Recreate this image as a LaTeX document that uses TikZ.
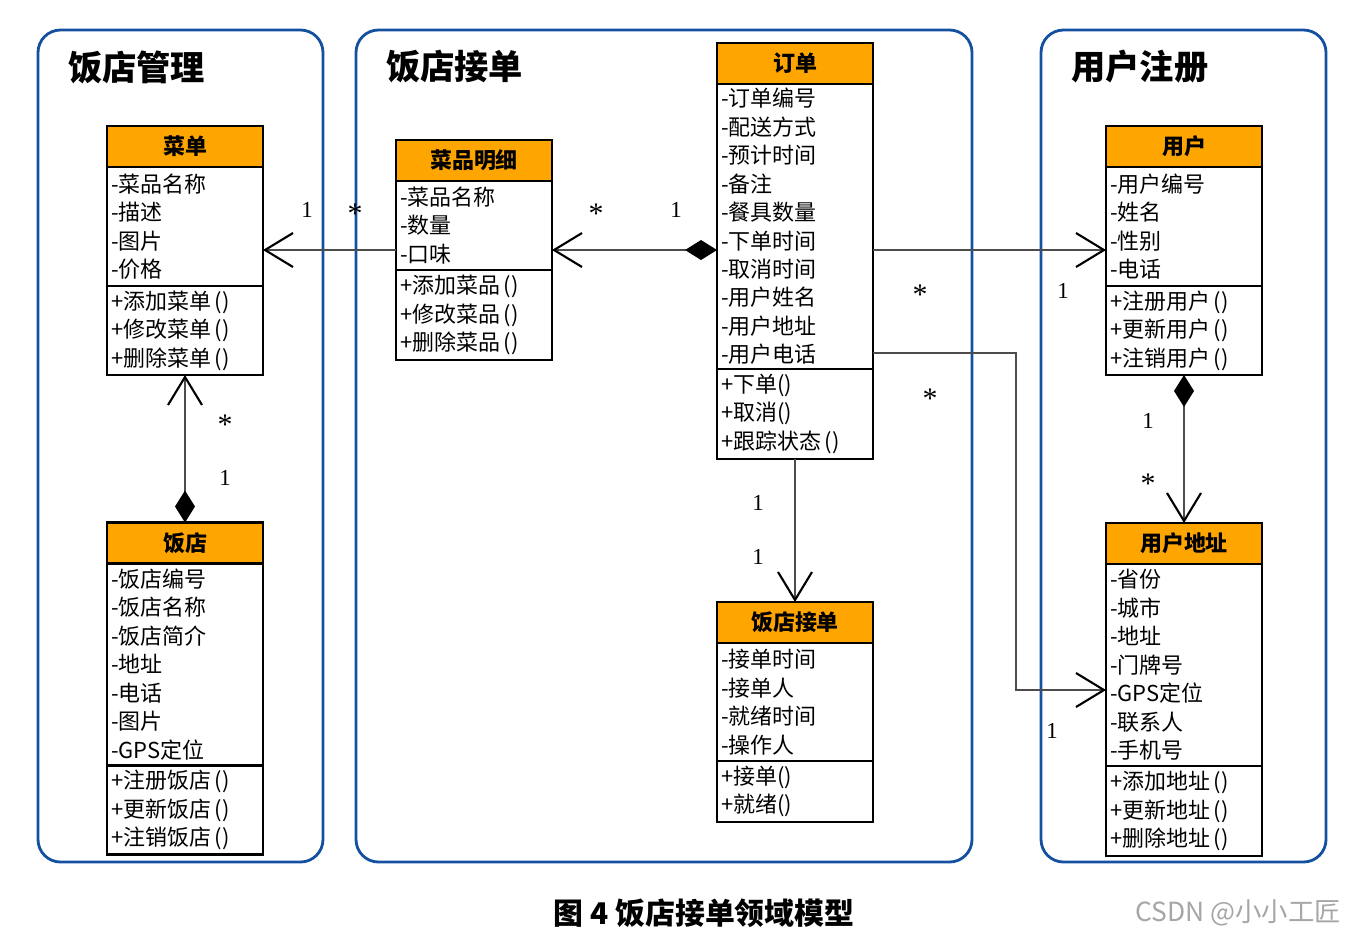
\documentclass[tikz,border=0pt]{standalone}
\usepackage{fontspec}
\setmainfont{Noto Sans CJK SC}
\newfontfamily\numfont{Liberation Serif}
\usetikzlibrary{positioning,arrows.meta}
\definecolor{headorange}{RGB}{255,165,0}
\definecolor{panelblue}{RGB}{20,80,160}
\tikzset{
  panel/.style={draw=panelblue, line width=1.6pt, rounded corners=0.45cm},
  paneltitle/.style={anchor=west, font=\fontsize{19.5}{22}\selectfont\bfseries},
  clshead/.style={draw, line width=1.3pt, outer sep=0pt, fill=headorange, text width=2.96cm, inner xsep=0.08cm,
    minimum height=0.82cm, align=center, font=\fontsize{12.5}{15}\selectfont\bfseries},
  clsbody/.style={draw, line width=1.3pt, outer sep=0pt, fill=white, text width=2.96cm, inner xsep=0.08cm,
    inner ysep=0pt, align=left, font=\fontsize{12.5}{16.2}\selectfont},
  assoc/.style={draw=black!70, line width=0.7pt},
  openend/.style={-{Straight Barb[length=0.56cm,width=0.68cm,line width=1.2pt,color=black]}},
  diamondopen/.style={{Diamond[length=0.64cm,width=0.4cm,color=black]}-{Straight Barb[length=0.56cm,width=0.68cm,line width=1.2pt,color=black]}},
  mult/.style={font=\numfont\fontsize{13}{15}\selectfont},
  multstar/.style={font=\numfont\fontsize{17}{19}\selectfont},
}
\begin{document}
\begin{tikzpicture}[x=0.02cm,y=-0.02cm]
    \useasboundingbox (0,0) rectangle (1351,938);
    \draw[panel] (38,30) rectangle (323,862);
    \draw[panel] (356,30) rectangle (972,862);
    \draw[panel] (1041,30) rectangle (1326,862);
    \node[paneltitle] (t1) at (62,67) {饭店管理};
    \node[paneltitle] (t2) at (380,67) {饭店接单};
    \node[paneltitle] (t3) at (1065,67) {用户注册};

    \node[clshead] (caidan) at (185,146.5) {菜单};
    \node[clsbody, minimum height=2.38cm, below=0pt of caidan] (caidan-a) {-菜品名称\\-描述\\-图片\\-价格};
    \node[clsbody, minimum height=1.78cm, below=0pt of caidan-a] (caidan-m) {+添加菜单\,()\\+修改菜单\,()\\+删除菜单\,()};

    \node[clshead] (fandian) at (185,543) {饭店};
    \node[clsbody, minimum height=4.04cm, below=0pt of fandian] (fandian-a) {-饭店编号\\-饭店名称\\-饭店简介\\-地址\\-电话\\-图片\\-GPS定位};
    \node[clsbody, minimum height=1.78cm, below=0pt of fandian-a] (fandian-m) {+注册饭店\,()\\+更新饭店\,()\\+注销饭店\,()};

    \node[clshead] (mingxi) at (474,160.5) {菜品明细};
    \node[clsbody, minimum height=1.78cm, below=0pt of mingxi] (mingxi-a) {-菜品名称\\-数量\\-口味};
    \node[clsbody, minimum height=1.8cm, below=0pt of mingxi-a] (mingxi-m) {+添加菜品\,()\\+修改菜品\,()\\+删除菜品\,()};

    \node[clshead] (dingdan) at (795,63.5) {订单};
    \node[clsbody, minimum height=5.7cm, below=0pt of dingdan] (dingdan-a) {-订单编号\\-配送方式\\-预计时间\\-备注\\-餐具数量\\-下单时间\\-取消时间\\-用户姓名\\-用户地址\\-用户电话};
    \node[clsbody, minimum height=1.8cm, below=0pt of dingdan-a] (dingdan-m) {+下单()\\+取消()\\+跟踪状态\,()};

    \node[clshead] (jiedan) at (795,622.5) {饭店接单};
    \node[clsbody, minimum height=2.36cm, below=0pt of jiedan] (jiedan-a) {-接单时间\\-接单人\\-就绪时间\\-操作人};
    \node[clsbody, minimum height=1.22cm, below=0pt of jiedan-a] (jiedan-m) {+接单()\\+就绪()};

    \node[clshead] (yonghu) at (1184,146.5) {用户};
    \node[clsbody, minimum height=2.38cm, below=0pt of yonghu] (yonghu-a) {-用户编号\\-姓名\\-性别\\-电话};
    \node[clsbody, minimum height=1.78cm, below=0pt of yonghu-a] (yonghu-m) {+注册用户\,()\\+更新用户\,()\\+注销用户\,()};

    \node[clshead] (dizhi) at (1184,543.5) {用户地址};
    \node[clsbody, minimum height=4.04cm, below=0pt of dizhi] (dizhi-a) {-省份\\-城市\\-地址\\-门牌号\\-GPS定位\\-联系人\\-手机号};
    \node[clsbody, minimum height=1.8cm, below=0pt of dizhi-a] (dizhi-m) {+添加地址\,()\\+更新地址\,()\\+删除地址\,()};

    \coordinate (row) at (0,250);
    \coordinate (turn) at (1016,690);
    \draw[assoc, openend] (mingxi-a.west |- row) -- (caidan-a.east |- row);
    \draw[assoc, diamondopen] (dingdan-a.west |- row) -- (mingxi-a.east |- row);
    \draw[assoc, openend] (dingdan-a.east |- row) -- (yonghu-a.west |- row);
    \draw[assoc, openend] (dingdan-a.east |- 0,353) -| (turn) -- (dizhi-a.west |- turn);
    \draw[assoc, openend] (dingdan-m.south) -- (jiedan.north);
    \draw[assoc, diamondopen] (fandian.north) -- (caidan-m.south);
    \draw[assoc, diamondopen] (yonghu-m.south) -- (dizhi.north);

    \node[mult] (m1) at (307,210) {1};
    \node[multstar] (m2) at (355,214) {*};
    \node[multstar] (m3) at (596,214) {*};
    \node[mult] (m4) at (676,210) {1};
    \node[multstar] (m5) at (920,295) {*};
    \node[mult] (m6) at (1063,291) {1};
    \node[multstar] (m7) at (930,399) {*};
    \node[mult] (m8) at (1052,731) {1};
    \node[mult] (m9) at (758,503) {1};
    \node[mult] (m10) at (758,557) {1};
    \node[multstar] (m11) at (225,425) {*};
    \node[mult] (m12) at (225,478) {1};
    \node[mult] (m13) at (1148,421) {1};
    \node[multstar] (m14) at (1148,484) {*};

    \node[font=\fontsize{17}{19}\selectfont\bfseries] (caption) at (704,913) {图 4 饭店接单领域模型};
    \node[anchor=east, text=black!35, font=\fontsize{15}{17}\selectfont] (mark) at (1347,913) {CSDN @小小工匠};
\end{tikzpicture}
\end{document}
